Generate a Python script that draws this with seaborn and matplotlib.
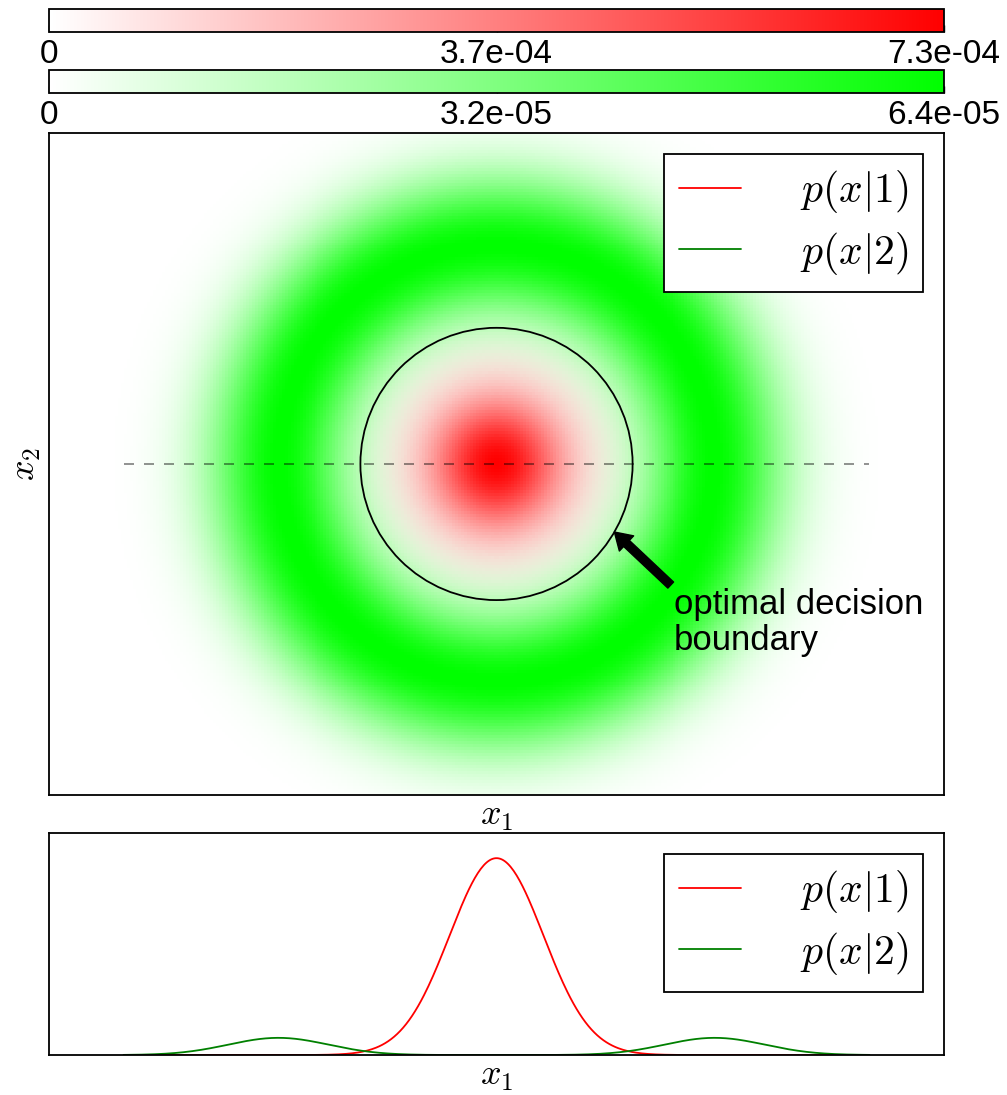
import numpy as np
import matplotlib
matplotlib.use('Agg')
import matplotlib.pyplot as plt
import seaborn as sns
from matplotlib.colors import LinearSegmentedColormap, Normalize
from matplotlib.patches import Circle
from matplotlib.ticker import FuncFormatter

# values (x in plot units, 1 unit ~ 37 px)
red_peak = 7.33e-4        # max of p(x|1)
green_peak = 6.4e-5       # max of p(x|2)
red_sigma = 1.26
ring_radius = 5.85
ring_sigma = 1.34
boundary_radius = 3.65
x1_limits = [-12, 12]
x2_limits = [-8.875, 8.875]
slice_range = [-10, 10]
class_labels = ['$p(x|1)$', '$p(x|2)$']
line_colors = ['red', 'green']

sns.set_style('white', {'axes.edgecolor': 'black', 'text.color': 'black',
                        'axes.labelcolor': 'black', 'xtick.color': 'black'})
plt.rcParams['font.family'] = ['Liberation Sans', 'DejaVu Sans']
plt.rcParams['mathtext.fontset'] = 'cm'


def p_red(x1, x2):
    return red_peak * np.exp(-(x1**2 + x2**2) / (2 * red_sigma**2))


def p_green(x1, x2):
    r = np.hypot(x1, x2)
    return green_peak * np.exp(-(r - ring_radius)**2 / (2 * ring_sigma**2))


gx = np.linspace(x1_limits[0], x1_limits[1], 300)
gy = np.linspace(x2_limits[0], x2_limits[1], 222)
X1, X2 = np.meshgrid(gx, gy)
P1 = p_red(X1, X2)
P2 = p_green(X1, X2)

green_cmap = LinearSegmentedColormap.from_list('wg', ['white', '#00ff00'])
red_cmap = LinearSegmentedColormap.from_list('wr', ['white', '#ff0000'])
red_alpha = LinearSegmentedColormap.from_list('ar', [(1, 0, 0, 0), (1, 0, 0, 1)])

fig = plt.figure(figsize=(10.07, 10.95), dpi=100)
cax1 = fig.add_axes([0.0487, 0.9708, 0.8887, 0.021])
cax2 = fig.add_axes([0.0487, 0.9151, 0.8887, 0.021])
ax = fig.add_axes([0.0487, 0.274, 0.8887, 0.6046])
ax2 = fig.add_axes([0.0487, 0.0365, 0.8887, 0.2027])

# bottom panel: slices along x2 = 0
xs = np.linspace(slice_range[0], slice_range[1], 500)
sns.lineplot(x=xs, y=p_red(xs, 0), color=line_colors[0], lw=1.3,
             label=class_labels[0], ax=ax2)
sns.lineplot(x=xs, y=p_green(xs, 0), color=line_colors[1], lw=1.3,
             label=class_labels[1], ax=ax2)
ax2.set_xlim(x1_limits)
ax2.set_ylim(0, red_peak / 0.887)
ax2.set_xticks([])
ax2.set_yticks([])
ax2.set_xlabel('$x_1$', fontsize=26, labelpad=2)
handles, labels = ax2.get_legend_handles_labels()

# main panel: density image
ext = [x1_limits[0], x1_limits[1], x2_limits[0], x2_limits[1]]
ax.imshow(P2, cmap=green_cmap, vmin=0, vmax=green_peak, extent=ext,
          origin='lower', aspect='auto', interpolation='nearest')
ax.imshow(P1, cmap=red_alpha, vmin=0, vmax=red_peak, extent=ext,
          origin='lower', aspect='auto', interpolation='nearest')
ax.plot(slice_range, [0, 0], color='black', alpha=0.5, lw=1.2, dashes=(6, 6))
ax.add_patch(Circle((0, 0), boundary_radius, fill=False, edgecolor='black', lw=1.3))
ang = np.deg2rad(-30)
ax.annotate('optimal decision\nboundary',
            xy=(boundary_radius * np.cos(ang), boundary_radius * np.sin(ang)),
            xytext=(4.76, -3.33), textcoords='data', ha='left', va='top',
            fontsize=25, linespacing=1.1,
            arrowprops=dict(facecolor='black', edgecolor='black', width=6,
                            headwidth=15, headlength=12, shrink=0.0))
ax.set_xlim(x1_limits)
ax.set_ylim(x2_limits)
ax.set_xticks([])
ax.set_yticks([])
ax.set_xlabel('$x_1$', fontsize=26, labelpad=2)
ax.set_ylabel('$x_2$', fontsize=26)

for a in [ax, ax2]:
    for s in a.spines.values():
        s.set_linewidth(1.3)
        s.set_color('black')
    leg = a.legend(handles, labels, loc='upper right', fontsize=30,
                   fancybox=False, edgecolor='black', framealpha=1,
                   handlelength=1.5, handletextpad=1.4, borderaxespad=0.5,
                   labelspacing=0.35, borderpad=0.35)
    leg.get_frame().set_linewidth(1.3)

# colorbars
fmt = FuncFormatter(lambda v, p: '0' if v == 0 else '%.1e' % v)
for cax, cmap, vmax in [(cax1, red_cmap, red_peak), (cax2, green_cmap, green_peak)]:
    sm = plt.cm.ScalarMappable(norm=Normalize(0, vmax), cmap=cmap)
    cb = fig.colorbar(sm, cax=cax, orientation='horizontal',
                      ticks=[0, vmax / 2, vmax])
    cb.ax.xaxis.set_major_formatter(fmt)
    cb.ax.tick_params(direction='in', length=5, width=1, labelsize=24, pad=5)
    cb.outline.set_linewidth(1.3)
    cb.outline.set_edgecolor('black')

fig.savefig('out.png', dpi=100)
